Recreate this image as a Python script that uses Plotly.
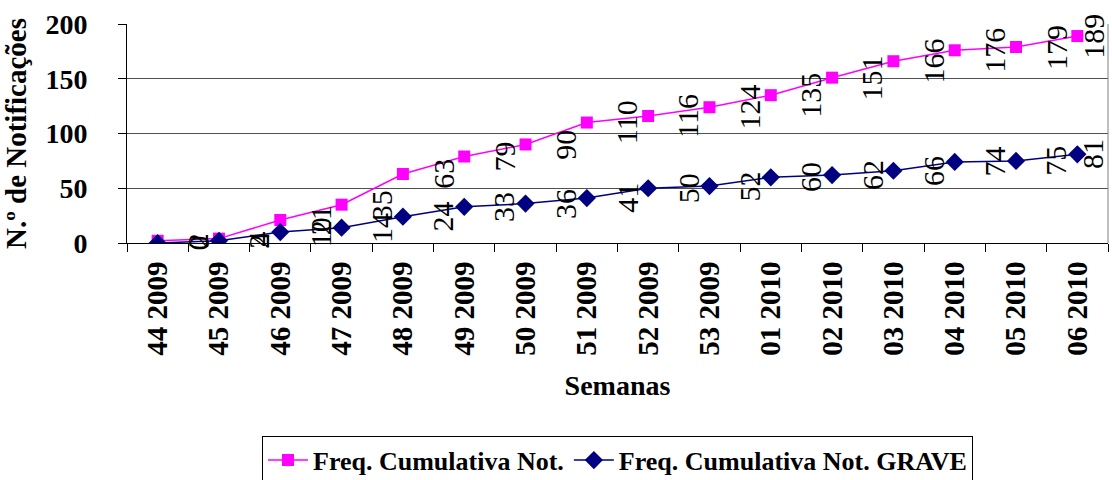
import plotly.graph_objects as go

weeks = ["44 2009", "45 2009", "46 2009", "47 2009", "48 2009", "49 2009", "50 2009",
         "51 2009", "52 2009", "53 2009", "01 2010", "02 2010", "03 2010", "04 2010",
         "05 2010", "06 2010"]
freq_total = [2, 4, 21, 35, 63, 79, 90, 110, 116, 124, 135, 151, 166, 176, 179, 189]
freq_grave = [0, 2, 10, 14, 24, 33, 36, 41, 50, 52, 60, 62, 66, 74, 75, 81]

name_total = "Freq. Cumulativa Not."
name_grave = "Freq. Cumulativa Not. GRAVE"

PINK = "#FF00FF"
NAVY = "#000080"
SERIF = "Liberation Serif"

idx = list(range(len(weeks)))
y_ticks = [0, 50, 100, 150, 200]

fig = go.Figure()
fig.add_trace(go.Scatter(
    x=idx, y=freq_total, name=name_total, mode="lines+markers",
    line=dict(color=PINK, width=1.5),
    marker=dict(symbol="square", size=12, color=PINK),
))
fig.add_trace(go.Scatter(
    x=idx, y=freq_grave, name=name_grave, mode="lines+markers",
    line=dict(color=NAVY, width=1.5),
    marker=dict(symbol="diamond", size=14, color=NAVY),
))

# rotated data labels, offset to the right of each point (Excel style)
annotations = []
for series in (freq_total, freq_grave):
    for i, v in enumerate(series):
        annotations.append(dict(
            x=min(i + 0.65, len(weeks) - 0.75), y=v, xref="x", yref="y",
            text=str(v), showarrow=False, textangle=-90,
            xanchor="center", yanchor="middle",
            font=dict(family=SERIF, size=30, color="black"),
        ))

fig.update_layout(
    width=1112, height=480,
    margin=dict(l=127, r=4, t=24, b=237, autoexpand=False),
    paper_bgcolor="white", plot_bgcolor="white",
    showlegend=True,
    legend=dict(
        orientation="h", x=0.5, xanchor="center", y=-0.88, yanchor="top",
        bordercolor="black", borderwidth=1,
        font=dict(family=SERIF, size=26, color="black", weight="bold"),
        itemwidth=40, tracegroupgap=0,
    ),
    annotations=annotations,
)

fig.update_xaxes(
    type="linear", range=[-0.5, len(weeks) - 0.5],
    tickmode="array", tickvals=idx, ticktext=weeks,
    tickangle=-90, showgrid=False,
    showline=True, linecolor="black", linewidth=1,
    ticks="outside", ticklen=6, tickcolor="rgba(0,0,0,0)",
    tickfont=dict(family=SERIF, size=29, color="black", weight="bold"),
    title=dict(text="Semanas", font=dict(family=SERIF, size=28, color="black", weight="bold"),
               standoff=20),
    mirror=False, zeroline=False,
)
# category boundary ticks
fig.update_xaxes(minor=dict(tickmode="array", tickvals=[i - 0.5 for i in range(len(weeks) + 1)],
                            ticks="outside", ticklen=8, tickcolor="black", showgrid=False))

fig.update_yaxes(
    range=[0, 200], tickmode="array", tickvals=y_ticks,
    showgrid=True, gridcolor="#505050", gridwidth=1,
    showline=True, linecolor="black", linewidth=1,
    ticks="outside", ticklen=8, tickcolor="black",
    ticklabelstandoff=25,
    tickfont=dict(family=SERIF, size=28, color="black", weight="bold"),
    title=dict(text="N.º de Notificações", font=dict(family=SERIF, size=29, color="black", weight="bold"),
               standoff=10),
    zeroline=False,
)

# right border of the plot area
fig.add_shape(type="line", xref="paper", yref="paper", x0=1, x1=1, y0=0, y1=1,
              line=dict(color="#808080", width=1))

fig.write_html("out.html", config={"displayModeBar": False},
               post_script="document.body.style.margin='0px';")
